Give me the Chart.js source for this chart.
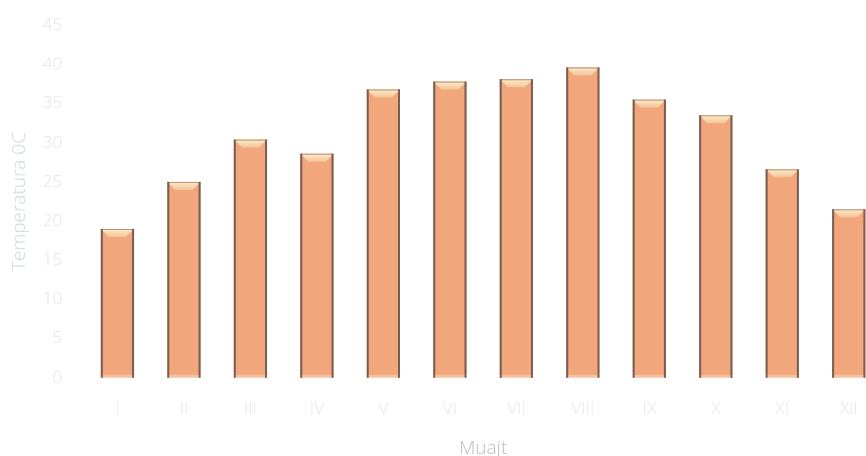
<!DOCTYPE html>
<html>
<head>
<meta charset="utf-8">
<script src="https://cdn.jsdelivr.net/npm/chart.js@4"></script>
<style>
  html, body { margin: 0; padding: 0; background: #fff; overflow: hidden; }
  #grafico { display: block; margin-top: -7px; }
</style>
</head>
<body>
<canvas id="grafico" width="900" height="463"></canvas>
<script>
// muajt (romani) dhe temperaturat e lexuara nga figura
var muajt = ['I', 'II', 'III', 'IV', 'V', 'VI', 'VII', 'VIII', 'IX', 'X', 'XI', 'XII'];
var temperaturat = [19, 25, 30.4, 28.6, 36.8, 37.8, 38.1, 39.6, 35.5, 33.5, 26.6, 21.5];
var ticksY = [0, 5, 10, 15, 20, 25, 30, 35, 40, 45];

// efekti 3D i shtyllave: skajet e errta dhe pjerrja e siperme
var bevelPlugin = {
    id: 'bevel',
    afterDatasetsDraw: function (chart) {
        var ctx = chart.ctx;
        var meta = chart.getDatasetMeta(0);
        meta.data.forEach(function (bar) {
            var p = bar.getProps(['x', 'y', 'base', 'width'], true);
            var l = p.x - p.width / 2, r = p.x + p.width / 2;
            var b = 8;
            ctx.save();
            // pjesa e siperme
            var g = ctx.createLinearGradient(0, p.y, 0, p.y + b);
            g.addColorStop(0, '#fcedc8');
            g.addColorStop(1, '#f4c29a');
            ctx.fillStyle = g;
            ctx.beginPath();
            ctx.moveTo(l, p.y);
            ctx.lineTo(r, p.y);
            ctx.lineTo(r - b, p.y + b);
            ctx.lineTo(l + b, p.y + b);
            ctx.closePath();
            ctx.fill();
            // vija e siperme
            ctx.fillStyle = '#b58e78';
            ctx.fillRect(l, p.y, p.width, 1);
            // skajet anesore
            ctx.fillStyle = '#7a5e54';
            ctx.fillRect(l, p.y, 2, p.base - p.y);
            ctx.fillRect(r - 2, p.y, 2, p.base - p.y);
            // baza pak me e hapur
            ctx.fillStyle = 'rgba(255,220,190,0.5)';
            ctx.fillRect(l + 2, p.base - 3, p.width - 4, 3);
            ctx.restore();
        });
    }
};

var ctx = document.getElementById('grafico').getContext('2d');
ctx.letterSpacing = '1px';
var chart = new Chart(ctx, {
    type: 'bar',
    data: {
        labels: muajt,
        datasets: [{
            label: 'Temperatura',
            data: temperaturat,
            backgroundColor: '#f1a67c',
            borderWidth: 0,
            barPercentage: 0.5,
            categoryPercentage: 1
        }]
    },
    options: {
        responsive: false,
        animation: false,
        layout: { padding: { top: 4, left: 8, right: 18, bottom: 0 } },
        plugins: {
            legend: { display: false },
            tooltip: { enabled: false }
        },
        scales: {
            x: {
                grid: { display: false, drawTicks: false },
                border: { display: false },
                ticks: { color: '#e2e6eb', padding: 21, font: { family: 'Open Sans', size: 17, weight: 300 } },
                title: {
                    display: true,
                    text: 'Muajt',
                    color: '#b8bdc3',
                    font: { family: 'Open Sans', size: 19, weight: 300 },
                    padding: { top: -3, bottom: -4 }
                }
            },
            y: {
                min: 0,
                max: 45,
                afterBuildTicks: function (axis) {
                    axis.ticks = ticksY.map(function (v) { return { value: v }; });
                },
                grid: { display: false, drawTicks: false },
                border: { display: false },
                ticks: { color: '#e0e4ea', padding: 22, font: { family: 'Open Sans', size: 17, weight: 300 } },
                title: {
                    display: true,
                    text: 'Temperatura 0C',
                    color: '#cdd8e6',
                    font: { family: 'Open Sans', size: 19, weight: 300 },
                    padding: { top: 0, bottom: -10 }
                }
            }
        }
    },
    plugins: [bevelPlugin]
});
</script>
</body>
</html>
